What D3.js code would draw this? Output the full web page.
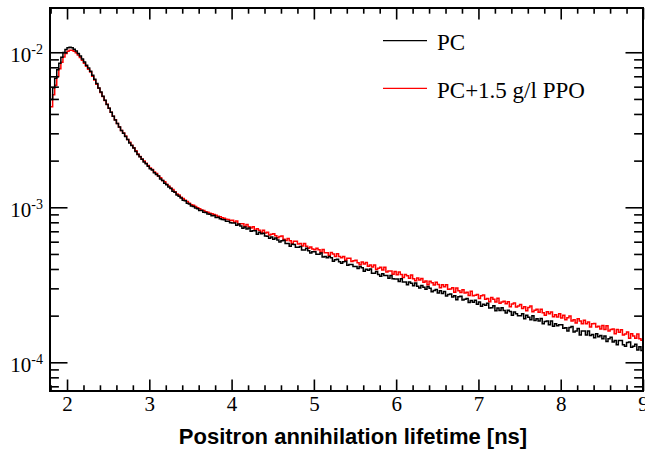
<!DOCTYPE html>
<html>
<head>
<meta charset="utf-8">
<script src="https://cdn.jsdelivr.net/npm/d3@7"></script>
<style>
  body { margin: 0; background: #fff; }
</style>
</head>
<body>
<div id="chart"></div>
<script>
// histogram contents, bins of 0.025 ns starting at 1.80 ns
const pcValues = [
  4.95e-3, 5.91e-3, 6.79e-3, 7.71e-3, 8.51e-3, 9.28e-3, 9.97e-3, 1.042e-2, 1.069e-2, 1.077e-2,
  1.068e-2, 1.046e-2, 1.018e-2, 9.82e-3, 9.45e-3, 9.04e-3, 8.65e-3, 8.25e-3, 7.91e-3, 7.54e-3,
  7.10e-3, 6.70e-3, 6.29e-3, 5.89e-3, 5.54e-3, 5.21e-3, 4.91e-3, 4.61e-3, 4.35e-3, 4.10e-3,
  3.87e-3, 3.66e-3, 3.47e-3, 3.29e-3, 3.13e-3, 3.00e-3, 2.86e-3, 2.74e-3, 2.60e-3, 2.50e-3,
  2.41e-3, 2.29e-3, 2.19e-3, 2.12e-3, 2.04e-3, 1.96e-3, 1.91e-3, 1.84e-3, 1.77e-3, 1.74e-3,
  1.67e-3, 1.63e-3, 1.59e-3, 1.52e-3, 1.49e-3, 1.43e-3, 1.40e-3, 1.35e-3, 1.32e-3, 1.27e-3,
  1.25e-3, 1.20e-3, 1.18e-3, 1.15e-3, 1.11e-3, 1.10e-3, 1.06e-3, 1.05e-3, 1.02e-3, 1.01e-3,
  9.90e-4, 9.80e-4, 9.55e-4, 9.52e-4, 9.30e-4, 9.26e-4, 9.06e-4, 9.03e-4, 8.82e-4, 8.84e-4,
  8.60e-4, 8.62e-4, 8.44e-4, 8.33e-4, 8.30e-4, 8.13e-4, 8.14e-4, 7.96e-4,
  7.92e-4, 7.91e-4, 7.66e-4, 7.80e-4, 7.56e-4, 7.33e-4, 7.46e-4, 7.24e-4, 7.36e-4, 7.00e-4,
  7.06e-4, 7.05e-4, 6.69e-4, 6.89e-4, 6.74e-4, 6.79e-4, 6.52e-4, 6.51e-4, 6.31e-4, 6.42e-4,
  6.23e-4, 6.34e-4, 6.16e-4, 5.97e-4, 6.08e-4, 6.14e-4, 5.84e-4, 5.83e-4, 5.60e-4, 5.77e-4,
  5.76e-4, 5.53e-4, 5.53e-4, 5.58e-4, 5.30e-4, 5.30e-4, 5.45e-4, 5.24e-4, 5.08e-4, 5.17e-4,
  5.17e-4, 4.97e-4, 4.97e-4, 5.07e-4, 4.77e-4, 4.82e-4, 4.72e-4, 4.82e-4, 4.73e-4, 4.49e-4,
  4.59e-4, 4.63e-4, 4.46e-4, 4.36e-4, 4.45e-4, 4.49e-4, 4.23e-4, 4.28e-4, 4.27e-4, 4.15e-4,
  4.15e-4, 4.03e-4, 4.15e-4, 4.07e-4, 3.87e-4, 3.99e-4, 3.92e-4, 4.00e-4, 3.76e-4, 3.76e-4,
  3.85e-4, 3.69e-4, 3.59e-4, 3.73e-4, 3.63e-4, 3.63e-4, 3.49e-4, 3.63e-4, 3.46e-4, 3.45e-4,
  3.45e-4, 3.32e-4, 3.46e-4, 3.30e-4, 3.30e-4, 3.17e-4, 3.30e-4, 3.24e-4, 3.12e-4, 3.25e-4,
  3.10e-4, 3.01e-4, 3.13e-4, 3.05e-4, 2.96e-4, 3.08e-4, 3.00e-4, 2.85e-4, 2.91e-4, 2.95e-4,
  2.80e-4, 2.89e-4, 2.78e-4, 2.86e-4, 2.68e-4, 2.74e-4, 2.76e-4, 2.64e-4, 2.69e-4, 2.53e-4,
  2.65e-4, 2.67e-4, 2.52e-4, 2.55e-4, 2.58e-4, 2.43e-4, 2.50e-4, 2.44e-4, 2.51e-4, 2.37e-4,
  2.45e-4, 2.30e-4, 2.37e-4, 2.33e-4, 2.40e-4, 2.24e-4, 2.25e-4, 2.32e-4, 2.15e-4, 2.24e-4,
  2.16e-4, 2.25e-4, 2.16e-4, 2.08e-4, 2.17e-4, 2.13e-4, 2.01e-4, 2.11e-4, 2.06e-4, 2.00e-4,
  2.00e-4, 2.06e-4, 1.91e-4, 2.01e-4, 1.95e-4, 1.88e-4, 2.00e-4, 1.86e-4, 1.91e-4, 1.85e-4,
  1.92e-4, 1.77e-4, 1.83e-4, 1.85e-4, 1.75e-4, 1.85e-4, 1.71e-4, 1.77e-4, 1.72e-4, 1.75e-4,
  1.75e-4, 1.66e-4, 1.67e-4, 1.59e-4, 1.68e-4, 1.70e-4, 1.57e-4, 1.59e-4, 1.65e-4, 1.50e-4,
  1.59e-4, 1.59e-4, 1.50e-4, 1.59e-4, 1.49e-4, 1.51e-4, 1.44e-4, 1.53e-4, 1.46e-4, 1.49e-4,
  1.42e-4, 1.48e-4, 1.36e-4, 1.42e-4, 1.45e-4, 1.35e-4, 1.38e-4, 1.30e-4, 1.38e-4, 1.38e-4,
  1.30e-4, 1.27e-4, 1.34e-4, 1.35e-4, 1.25e-4, 1.27e-4, 1.31e-4, 1.20e-4, 1.26e-4, 1.19e-4
];
const ppoValues = [
  4.46e-3, 5.33e-3, 6.12e-3, 6.99e-3, 7.83e-3, 8.62e-3, 9.33e-3, 9.82e-3, 1.016e-2, 1.030e-2,
  1.030e-2, 1.016e-2, 9.93e-3, 9.61e-3, 9.26e-3, 8.87e-3, 8.51e-3, 8.12e-3, 7.78e-3, 7.46e-3,
  7.01e-3, 6.63e-3, 6.23e-3, 5.85e-3, 5.51e-3, 5.19e-3, 4.89e-3, 4.62e-3, 4.35e-3, 4.11e-3,
  3.87e-3, 3.67e-3, 3.47e-3, 3.30e-3, 3.13e-3, 3.02e-3, 2.88e-3, 2.74e-3, 2.63e-3, 2.51e-3,
  2.42e-3, 2.32e-3, 2.21e-3, 2.13e-3, 2.05e-3, 1.99e-3, 1.92e-3, 1.86e-3, 1.79e-3, 1.75e-3,
  1.69e-3, 1.65e-3, 1.59e-3, 1.55e-3, 1.49e-3, 1.46e-3, 1.41e-3, 1.37e-3, 1.33e-3, 1.30e-3,
  1.26e-3, 1.22e-3, 1.20e-3, 1.16e-3, 1.14e-3, 1.11e-3, 1.09e-3, 1.06e-3, 1.04e-3, 1.03e-3,
  1.01e-3, 9.94e-4, 9.80e-4, 9.62e-4, 9.54e-4, 9.37e-4, 9.30e-4, 9.16e-4, 9.10e-4, 8.97e-4,
  8.89e-4, 8.74e-4, 8.70e-4, 8.57e-4, 8.51e-4, 8.38e-4, 8.35e-4, 8.22e-4,
  8.24e-4, 8.00e-4, 8.15e-4, 7.75e-4, 7.83e-4, 7.82e-4, 7.51e-4, 7.73e-4, 7.50e-4, 7.36e-4,
  7.50e-4, 7.12e-4, 7.27e-4, 7.12e-4, 6.91e-4, 7.11e-4, 6.83e-4, 6.90e-4, 6.62e-4, 6.69e-4,
  6.75e-4, 6.55e-4, 6.35e-4, 6.48e-4, 6.54e-4, 6.23e-4, 6.10e-4, 6.28e-4, 6.09e-4, 5.85e-4,
  6.03e-4, 6.03e-4, 5.79e-4, 5.85e-4, 5.62e-4, 5.84e-4, 5.61e-4, 5.44e-4, 5.54e-4, 5.39e-4,
  5.33e-4, 5.44e-4, 5.33e-4, 5.13e-4, 5.34e-4, 5.09e-4, 5.09e-4, 4.89e-4, 5.10e-4, 5.00e-4,
  4.81e-4, 5.01e-4, 4.82e-4, 4.72e-4, 4.82e-4, 4.55e-4, 4.69e-4, 4.69e-4, 4.47e-4, 4.52e-4,
  4.56e-4, 4.39e-4, 4.26e-4, 4.44e-4, 4.31e-4, 4.40e-4, 4.16e-4, 4.24e-4, 4.12e-4, 4.25e-4,
  3.97e-4, 4.05e-4, 4.10e-4, 3.94e-4, 4.11e-4, 3.83e-4, 3.88e-4, 3.88e-4, 3.70e-4, 3.86e-4,
  3.67e-4, 3.82e-4, 3.68e-4, 3.53e-4, 3.68e-4, 3.62e-4, 3.48e-4, 3.66e-4, 3.46e-4, 3.36e-4,
  3.50e-4, 3.40e-4, 3.47e-4, 3.28e-4, 3.35e-4, 3.16e-4, 3.33e-4, 3.26e-4, 3.15e-4, 3.28e-4,
  3.18e-4, 3.03e-4, 3.16e-4, 3.07e-4, 3.17e-4, 2.96e-4, 2.97e-4, 3.03e-4, 2.83e-4, 3.01e-4,
  2.90e-4, 2.82e-4, 2.94e-4, 2.80e-4, 2.83e-4, 2.70e-4, 2.87e-4, 2.69e-4, 2.71e-4, 2.74e-4,
  2.58e-4, 2.69e-4, 2.72e-4, 2.55e-4, 2.58e-4, 2.46e-4, 2.62e-4, 2.55e-4, 2.45e-4, 2.59e-4,
  2.40e-4, 2.45e-4, 2.48e-4, 2.39e-4, 2.46e-4, 2.28e-4, 2.38e-4, 2.41e-4, 2.27e-4, 2.31e-4,
  2.36e-4, 2.22e-4, 2.28e-4, 2.15e-4, 2.26e-4, 2.31e-4, 2.12e-4, 2.17e-4, 2.20e-4, 2.10e-4,
  2.20e-4, 2.09e-4, 2.01e-4, 2.12e-4, 2.06e-4, 2.11e-4, 1.97e-4, 2.03e-4, 1.96e-4, 2.06e-4,
  1.93e-4, 2.01e-4, 1.88e-4, 1.94e-4, 1.99e-4, 1.85e-4, 1.88e-4, 1.79e-4, 1.91e-4, 1.85e-4,
  1.77e-4, 1.87e-4, 1.77e-4, 1.82e-4, 1.69e-4, 1.77e-4, 1.78e-4, 1.69e-4, 1.71e-4, 1.64e-4,
  1.73e-4, 1.63e-4, 1.72e-4, 1.59e-4, 1.63e-4, 1.64e-4, 1.53e-4, 1.63e-4, 1.56e-4, 1.62e-4,
  1.50e-4, 1.52e-4, 1.57e-4, 1.43e-4, 1.53e-4, 1.48e-4, 1.43e-4, 1.52e-4, 1.42e-4, 1.39e-4
];
const binStart = 1.8, binWidth = 0.025;
const xTicks = [2, 3, 4, 5, 6, 7, 8, 9];
const yMajor = [1e-2, 1e-3, 1e-4];
const legendLabels = ["PC", "PC+1.5 g/l PPO"];
const xTitle = "Positron annihilation lifetime [ns]";

const width = 645, height = 453;
const margin = {left: 50, right: 2, top: 8, bottom: 62};
const w = width - margin.left - margin.right;
const h = height - margin.top - margin.bottom;

const svg = d3.select("#chart").append("svg")
    .attr("width", width)
    .attr("height", height);
const g = svg.append("g")
    .attr("transform", "translate(" + margin.left + "," + margin.top + ")");

const x = d3.scaleLinear().domain([1.793, 9.0]).range([0, w]);
const y = d3.scaleLog().domain([6.53e-5, 1.93e-2]).range([h, 0]);

// minor tick positions
const xMinor = d3.range(1.8, 9.001, 0.2).filter(v => Math.abs(v - Math.round(v)) > 1e-6);
let yMinor = [];
[-5, -4, -3, -2].forEach(k => {
  for (let m = 2; m <= 9; m++) {
    let v = m * Math.pow(10, k);
    if (v >= y.domain()[0] && v <= y.domain()[1]) yMinor.push(v);
  }
});

g.append("clipPath").attr("id", "clip")
  .append("rect").attr("width", w).attr("height", h);

// histograms as steps
function histPath(vals) {
  let pts = vals.map((v, i) => [binStart + i * binWidth, v]);
  pts.push([binStart + vals.length * binWidth, vals[vals.length - 1]]);
  return d3.line()
    .x(d => x(d[0]))
    .y(d => y(d[1]))
    .curve(d3.curveStepAfter)(pts);
}

const plot = g.append("g").attr("clip-path", "url(#clip)");
plot.append("path")
  .attr("d", histPath(ppoValues))
  .attr("fill", "none").attr("stroke", "#ff0000").attr("stroke-width", 1.5);
plot.append("path")
  .attr("d", histPath(pcValues))
  .attr("fill", "none").attr("stroke", "#000").attr("stroke-width", 1.5);

// axes: ticks on all four sides
function styleAxis(sel) {
  sel.select(".domain").remove();
  sel.selectAll(".tick line").attr("stroke", "#000").attr("stroke-width", 1.6);
}

g.append("g").attr("transform", "translate(0," + h + ")")
  .call(d3.axisBottom(x).tickValues(xMinor).tickSize(-5.7).tickFormat(""))
  .call(styleAxis);
const gx = g.append("g").attr("transform", "translate(0," + h + ")")
  .call(d3.axisBottom(x).tickValues(xTicks).tickSize(-11.5).tickPadding(5).tickFormat(d3.format("d")))
  .call(styleAxis);
gx.selectAll("text")
  .attr("font-family", "'Liberation Serif', 'Times New Roman', serif")
  .attr("font-size", 21).attr("fill", "#000");

g.append("g")
  .call(d3.axisTop(x).tickValues(xMinor).tickSize(-5.7).tickFormat(""))
  .call(styleAxis);
g.append("g")
  .call(d3.axisTop(x).tickValues(xTicks).tickSize(-11.5).tickFormat(""))
  .call(styleAxis);

g.append("g")
  .call(d3.axisLeft(y).tickValues(yMinor).tickSize(-8.9).tickFormat(""))
  .call(styleAxis);
g.append("g")
  .call(d3.axisLeft(y).tickValues(yMajor).tickSize(-17.5).tickFormat(""))
  .call(styleAxis);
g.append("g").attr("transform", "translate(" + w + ",0)")
  .call(d3.axisRight(y).tickValues(yMinor).tickSize(-8.9).tickFormat(""))
  .call(styleAxis);
g.append("g").attr("transform", "translate(" + w + ",0)")
  .call(d3.axisRight(y).tickValues(yMajor).tickSize(-17.5).tickFormat(""))
  .call(styleAxis);

// y labels as 10^n
const yLab = g.append("g")
  .attr("font-family", "'Liberation Serif', 'Times New Roman', serif")
  .attr("fill", "#000");
yMajor.forEach(v => {
  let t = yLab.append("text")
    .attr("x", -7)
    .attr("y", y(v) + 10)
    .attr("text-anchor", "end")
    .attr("font-size", 21);
  t.append("tspan").text("10");
  t.append("tspan").attr("dy", -8).attr("font-size", 14)
    .text(String(Math.round(Math.log10(v))));
});

// frame
g.append("rect")
  .attr("width", w).attr("height", h)
  .attr("fill", "none").attr("stroke", "#000").attr("stroke-width", 2);

// axis title
svg.append("text")
  .attr("x", 353).attr("y", 444)
  .attr("text-anchor", "middle")
  .attr("font-family", "'Liberation Sans', Arial, sans-serif")
  .attr("font-weight", "bold")
  .attr("font-size", 22)
  .text(xTitle);

// legend
const legColors = ["#000", "#ff0000"];
const leg = svg.append("g");
legendLabels.forEach((lab, i) => {
  let ly = 40.7 + i * 47.6;
  leg.append("line")
    .attr("x1", 383).attr("x2", 427)
    .attr("y1", ly).attr("y2", ly)
    .attr("stroke", legColors[i]).attr("stroke-width", 1.2);
  leg.append("text")
    .attr("x", 437).attr("y", ly + 9.5)
    .attr("font-family", "'Liberation Serif', 'Times New Roman', serif")
    .attr("font-size", 23)
    .attr("fill", "#000")
    .text(lab);
});
</script>
</body>
</html>
